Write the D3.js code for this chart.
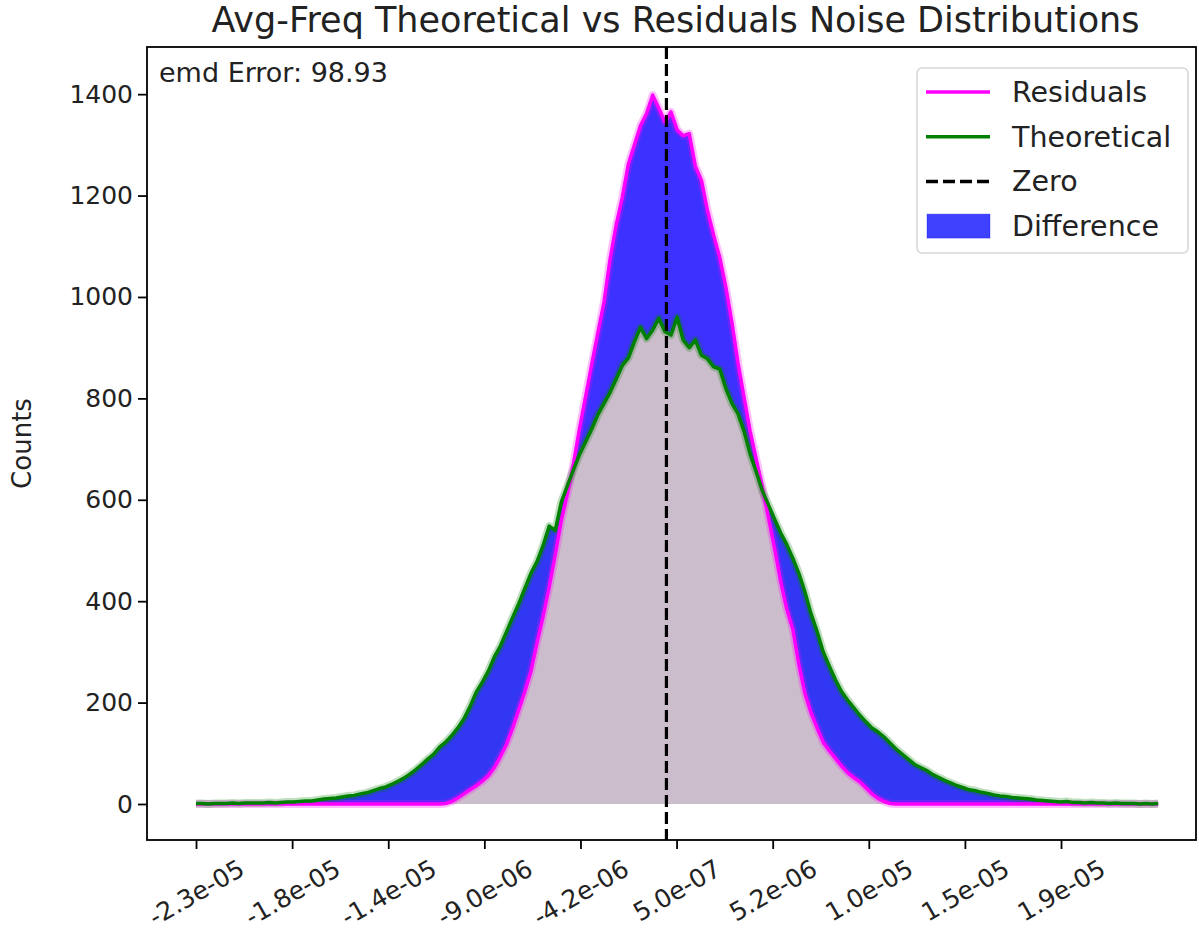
<!DOCTYPE html>
<html>
<head>
<meta charset="utf-8">
<title>Avg-Freq Theoretical vs Residuals Noise Distributions</title>
<style>
body {
  margin: 0;
  background: #fff;
  font-family: "DejaVu Sans", sans-serif;
}
svg {
  display: block;
}
.axis path, .axis line {
  stroke: #000;
  stroke-width: 1.8px;
}
.axis text {
  fill: #222;
  font-family: "DejaVu Sans", sans-serif;
}
</style>
<script src="https://d3js.org/d3.v7.min.js"></script>
</head>
<body>
<script>
const width = 1199,
  height = 947;

const margin = {top: 47, right: 3, bottom: 107, left: 147};

// histogram bins (centres) start and width
const binStart = -23.175e-6,
  binWidth = 0.3e-6;

const residualCounts = [
  0, 0, 0, 0, 0, 0, 0, 0, 0, 0, 0, 0, 0, 0, 0, 0, 0, 0, 0, 0,
  0, 0, 0, 0, 0, 0, 0, 0, 0, 0, 0, 0, 0, 0, 0, 0, 0, 0, 0, 0,
  0, 1, 5, 12, 20, 28, 36, 45, 56, 72,
  94, 118, 150, 186, 222, 262, 318, 370, 428, 492,
  560, 612, 672, 742, 805, 868, 930, 990, 1075, 1142,
  1196, 1262, 1300, 1338, 1362, 1398, 1372, 1345, 1365, 1330,
  1318, 1322, 1258, 1230, 1170, 1122, 1078, 1020, 950, 870,
  802, 735, 680, 625, 565, 505, 440, 385, 345, 275,
  218, 180, 150, 122, 105, 90, 75, 62, 52, 44,
  32, 20, 11, 5, 1, 0, 0, 0, 0, 0,
  0, 0, 0, 0, 0, 0, 0, 0, 0, 0, 0, 0, 0, 0, 0, 0, 0, 0, 0, 0,
  0, 0, 0, 0, 0, 0, 0, 0, 0, 0, 0, 0, 0, 0, 0, 0, 0, 0, 0
];

const theoreticalCounts = [
  1, 1, 0, 1, 1, 1, 2, 1, 2, 2, 2,
  2, 3, 2, 3, 4, 4, 5, 6, 6, 8,
  10, 11, 12, 14, 16, 17, 20, 22, 26, 30,
  33, 38, 44, 50, 58, 67, 77, 88, 98, 112,
  122, 135, 150, 168, 192, 220, 240, 262, 290, 312,
  340, 368, 395, 425, 455, 478, 510, 548, 540, 596,
  628, 660, 690, 715, 740, 768, 790, 812, 838, 865,
  880, 912, 940, 918, 935, 958, 932, 925, 960, 915,
  900, 915, 885, 878, 862, 858, 820, 790, 770, 735,
  690, 655, 618, 590, 562, 535, 512, 485, 455, 418,
  375, 340, 300, 272, 245, 222, 205, 190, 175, 162,
  150, 142, 132, 120, 108, 98, 88, 78, 72, 66,
  58, 52, 46, 41, 36, 32, 28, 26, 23, 21,
  18, 16, 15, 13, 12, 11, 10, 8, 7, 6,
  5, 4, 5, 3, 3, 2, 3, 2, 2, 1,
  2, 1, 1, 1, 0, 1, 0, 1
];

const xTickValues = [-23.175e-6, -18.44e-6, -13.705e-6, -8.97e-6, -4.235e-6,
  0.5e-6, 5.235e-6, 9.97e-6, 14.705e-6, 19.44e-6];
const xTickLabels = ['-2.3e-05', '-1.8e-05', '-1.4e-05', '-9.0e-06', '-4.2e-06',
  '5.0e-07', '5.2e-06', '1.0e-05', '1.5e-05', '1.9e-05'];
const yTickValues = [0, 200, 400, 600, 800, 1000, 1200, 1400];

const emdError = 98.93;

const legendItems = [
  {label: 'Residuals', type: 'line', color: '#ff00ff'},
  {label: 'Theoretical', type: 'line', color: '#008000'},
  {label: 'Zero', type: 'dash', color: '#000'},
  {label: 'Difference', type: 'patch', color: '#0000ff'}
];

const data = residualCounts.map((r, i) => ({
  x: binStart + i * binWidth,
  r: r,
  t: theoreticalCounts[i]
}));

const svg = d3.select('body').append('svg')
  .attr('width', width)
  .attr('height', height);

const x = d3.scaleLinear()
  .domain([-25.59e-6, 26.09e-6])
  .range([margin.left, width - margin.right]);

const y = d3.scaleLinear()
  .domain([-71, 1493])
  .range([height - margin.bottom, margin.top]);

const plot = svg.append('g');

// shaded areas under each curve
plot.append('path')
  .datum(data)
  .attr('fill', '#ff00ff')
  .attr('fill-opacity', 0.2)
  .attr('d', d3.area().x(d => x(d.x)).y0(y(0)).y1(d => y(d.r)));

plot.append('path')
  .datum(data)
  .attr('fill', '#008000')
  .attr('fill-opacity', 0.2)
  .attr('d', d3.area().x(d => x(d.x)).y0(y(0)).y1(d => y(d.t)));

// difference between the two
plot.append('path')
  .datum(data)
  .attr('fill', '#0000ff')
  .attr('fill-opacity', 0.76)
  .attr('d', d3.area().x(d => x(d.x)).y0(d => y(d.r)).y1(d => y(d.t)));

const lineR = d3.line().x(d => x(d.x)).y(d => y(d.r));
const lineT = d3.line().x(d => x(d.x)).y(d => y(d.t));

// soft spread band, then the line itself
[[lineR, '#ff00ff'], [lineT, '#008000']].forEach(([ln, c]) => {
  plot.append('path')
    .datum(data)
    .attr('fill', 'none')
    .attr('stroke', c)
    .attr('stroke-opacity', 0.25)
    .attr('stroke-width', 8)
    .attr('stroke-linejoin', 'round')
    .attr('d', ln);
});
[[lineR, '#ff00ff'], [lineT, '#008000']].forEach(([ln, c]) => {
  plot.append('path')
    .datum(data)
    .attr('fill', 'none')
    .attr('stroke', c)
    .attr('stroke-width', 3.5)
    .attr('stroke-linejoin', 'round')
    .attr('d', ln);
});

// zero line
plot.append('line')
  .attr('x1', x(0)).attr('x2', x(0))
  .attr('y1', margin.top).attr('y2', height - margin.bottom)
  .attr('stroke', '#000')
  .attr('stroke-width', 3.2)
  .attr('stroke-dasharray', '12,5');

// axes
const xAxis = svg.append('g')
  .attr('class', 'axis')
  .attr('transform', 'translate(0,' + (height - margin.bottom) + ')')
  .call(d3.axisBottom(x).tickValues(xTickValues)
    .tickFormat((d, i) => xTickLabels[i]).tickSize(9).tickSizeOuter(0));
xAxis.select('.domain').remove();

xAxis.selectAll('.tick text')
  .style('font-size', '25px')
  .attr('text-anchor', 'middle')
  .attr('dy', null)
  .attr('dominant-baseline', 'central')
  .each(function () {
    const w = this.getComputedTextLength();
    const h = 25 * 1.16;
    const bh = w * 0.5 + h * 0.866;
    d3.select(this)
      .attr('y', null)
      .attr('transform', 'translate(0,' + (9 + 5 + bh / 2) + ') rotate(-30)');
  });

const yAxis = svg.append('g')
  .attr('class', 'axis')
  .attr('transform', 'translate(' + margin.left + ',0)')
  .call(d3.axisLeft(y).tickValues(yTickValues).tickFormat(d3.format('d'))
    .tickSize(9).tickSizeOuter(0));
yAxis.select('.domain').remove();
yAxis.selectAll('.tick text')
  .style('font-size', '25px')
  .attr('x', -14);

// frame
svg.append('rect')
  .attr('x', margin.left)
  .attr('y', margin.top)
  .attr('width', width - margin.left - margin.right)
  .attr('height', height - margin.top - margin.bottom)
  .attr('fill', 'none')
  .attr('stroke', '#000')
  .attr('stroke-width', 1.8);

// title and labels
svg.append('text')
  .attr('x', (margin.left + width - margin.right) / 2 + 4)
  .attr('y', 32)
  .attr('text-anchor', 'middle')
  .style('font-size', '35px')
  .attr('fill', '#222')
  .text('Avg-Freq Theoretical vs Residuals Noise Distributions');

svg.append('text')
  .attr('transform', 'translate(31,' + ((margin.top + height - margin.bottom) / 2) + ') rotate(-90)')
  .attr('text-anchor', 'middle')
  .style('font-size', '26px')
  .attr('fill', '#222')
  .text('Counts');

svg.append('text')
  .attr('x', margin.left + 12)
  .attr('y', margin.top + 35)
  .style('font-size', '27px')
  .attr('fill', '#222')
  .text('emd Error: ' + emdError);

// legend
const legend = svg.append('g')
  .attr('transform', 'translate(917,68)');

legend.append('rect')
  .attr('width', 271)
  .attr('height', 185)
  .attr('rx', 5)
  .attr('fill', '#fff')
  .attr('fill-opacity', 0.8)
  .attr('stroke', '#d6d6d6')
  .attr('stroke-width', 1.5);

const rows = legend.selectAll('g.row')
  .data(legendItems)
  .enter().append('g')
    .attr('class', 'row')
    .attr('transform', (d, i) => 'translate(0,' + (24 + i * 44.7) + ')');

rows.filter(d => d.type !== 'patch').append('line')
  .attr('x1', 9).attr('x2', 73)
  .attr('stroke', d => d.color)
  .attr('stroke-width', 3.5)
  .attr('stroke-dasharray', d => d.type === 'dash' ? '12,5' : null);

rows.filter(d => d.type === 'patch').append('rect')
  .attr('x', 10).attr('y', -12)
  .attr('width', 63).attr('height', 24)
  .attr('fill', d => d.color)
  .attr('fill-opacity', 0.75)
  .attr('stroke', d => d.color)
  .attr('stroke-opacity', 0.3);

rows.append('text')
  .attr('x', 95)
  .attr('dy', '0.35em')
  .style('font-size', '28.5px')
  .attr('fill', '#222')
  .text(d => d.label);
</script>
</body>
</html>
